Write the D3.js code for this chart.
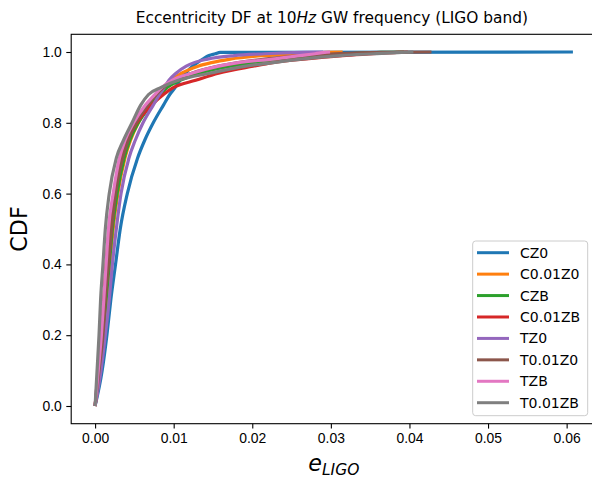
<!DOCTYPE html>
<html>
<head>
<meta charset="utf-8">
<script src="https://cdn.jsdelivr.net/npm/d3@7"></script>
<style>
  body { margin: 0; background: #fff; }
  svg { display: block; font-family: "DejaVu Sans", sans-serif; }
  .tick text { font-size: 13.9px; fill: #000; }
  .tick line { stroke: #000; stroke-width: 1.1; }
  .domain { display: none; }
</style>
</head>
<body>
<svg width="592" height="479"></svg>
<script>
// CDF levels shared by all series
var cdfLevels = [0, 0.1, 0.2, 0.3, 0.4, 0.5, 0.6, 0.7, 0.75, 0.8, 0.85, 0.88, 0.9, 0.92, 0.94, 0.96, 0.97, 0.98, 0.99, 0.995, 0.999, 1.0];

// eccentricity at 10 Hz for each CDF level
var cz0    = [0, .0009, .0015, .0020, .0026, .0032, .0041, .0054, .0063, .0074, .0087, .0095, .0102, .0108, .0115, .0124, .0130, .0137, .0145, .0153, .0159, .0608];
var c001z0 = [0, .0006, .0011, .0015, .0019, .0023, .0029, .0038, .0045, .0055, .0070, .0079, .0087, .0097, .0110, .0131, .0148, .0172, .0216, .0255, .0295, .0315];
var czb    = [0, .0005, .0010, .0014, .0018, .0022, .0028, .0037, .0044, .0055, .0071, .0083, .0092, .0108, .0133, .0172, .0201, .0236, .0285, .0325, .0364, .0393];
var c001zb = [0, .0004, .0008, .0011, .0014, .0018, .0024, .0033, .0041, .0053, .0072, .0087, .0100, .0128, .0157, .0201, .0226, .0265, .0315, .0354, .0384, .0398];
var tz0    = [0, .00075, .0013, .0018, .0022, .0027, .0033, .0043, .0051, .0061, .0074, .0082, .0088, .0094, .0103, .0116, .0126, .0143, .0177, .0216, .0265, .0290];
var t001z0 = [0, .0005, .0010, .0013, .0017, .0021, .0026, .0035, .0042, .0052, .0067, .0078, .0087, .0100, .0123, .0157, .0182, .0216, .0265, .0305, .0364, .0428];
var tzb    = [0, .0004, .0008, .0011, .0014, .0017, .0023, .0031, .0038, .0049, .0064, .0076, .0085, .0098, .0123, .0157, .0182, .0226, .0260, .0280, .0292, .0299];
var t001zb = [0, .00025, .0005, .0007, .0010, .0013, .0018, .0027, .0036, .0047, .0058, .0068, .0084, .0106, .0146, .0192, .0226, .0262, .0312, .0354, .0390, .0405];

var seriesNames = ["CZ0", "C0.01Z0", "CZB", "C0.01ZB", "TZ0", "T0.01Z0", "TZB", "T0.01ZB"];
var seriesVals = [cz0, c001z0, czb, c001zb, tz0, t001z0, tzb, t001zb];
var colors = ["#1f77b4", "#ff7f0e", "#2ca02c", "#d62728", "#9467bd", "#8c564b", "#e377c2", "#7f7f7f"];

var xTicks = [0, 0.01, 0.02, 0.03, 0.04, 0.05, 0.06];
var yTicks = [0, 0.2, 0.4, 0.6, 0.8, 1.0];

var svg = d3.select("svg");
var axLeft = 71.2, axRight = 596.5, axTop = 34.3, axBottom = 423.7;

var x = d3.scaleLinear().domain([-0.00304, 0.0638]).range([axLeft, axRight]);
var y = d3.scaleLinear().domain([-0.05, 1.05]).range([axBottom, axTop]);

var line = d3.line()
    .x(function(d) { return x(d[0]); })
    .y(function(d) { return y(d[1]); })
    .curve(d3.curveMonotoneX);

svg.append("defs").append("clipPath").attr("id", "clip")
  .append("rect")
    .attr("x", axLeft).attr("y", axTop)
    .attr("width", axRight - axLeft).attr("height", axBottom - axTop);

var plot = svg.append("g").attr("clip-path", "url(#clip)");
seriesVals.forEach(function(vals, i) {
  var pts = vals.map(function(v, j) { return [v, cdfLevels[j]]; });
  plot.append("path")
      .datum(pts)
      .attr("fill", "none")
      .attr("stroke", colors[i])
      .attr("stroke-width", 3.2)
      .attr("stroke-linejoin", "round")
      .attr("d", line);
});

// axes
svg.append("g")
    .attr("transform", "translate(0," + axBottom + ")")
    .call(d3.axisBottom(x).tickValues(xTicks).tickFormat(d3.format(".2f")).tickSizeOuter(0).tickSize(4.9).tickPadding(4.5));
svg.append("g")
    .attr("transform", "translate(" + axLeft + ",0)")
    .call(d3.axisLeft(y).tickValues(yTicks).tickFormat(d3.format(".1f")).tickSizeOuter(0).tickSize(4.9).tickPadding(4.5));

// spines
svg.append("rect")
    .attr("x", axLeft).attr("y", axTop)
    .attr("width", axRight - axLeft).attr("height", axBottom - axTop)
    .attr("fill", "none").attr("stroke", "#000").attr("stroke-width", 1.1);

// title
var title = svg.append("text")
    .attr("x", (axLeft + axRight) / 2 - 2).attr("y", 23)
    .attr("text-anchor", "middle")
    .style("font-size", "15.4px");
title.append("tspan").text("Eccentricity DF at 10");
title.append("tspan").attr("font-style", "italic").text("Hz");
title.append("tspan").text(" GW frequency (LIGO band)");

// y label
svg.append("text")
    .attr("transform", "translate(27," + ((axTop + axBottom) / 2) + ") rotate(-90)")
    .attr("text-anchor", "middle")
    .style("font-size", "22.2px")
    .text("CDF");

// x label
var xl = svg.append("text")
    .attr("x", (axLeft + axRight) / 2).attr("y", 471)
    .attr("text-anchor", "middle")
    .style("font-size", "22.2px")
    .attr("font-style", "italic");
xl.append("tspan").text("e");
xl.append("tspan").attr("dy", 4).style("font-size", "15.5px").text("LIGO");

// legend
var lg = svg.append("g");
lg.append("rect")
    .attr("x", 472.7).attr("y", 241).attr("width", 115).attr("height", 174.7)
    .attr("rx", 3).attr("fill", "#fff").attr("fill-opacity", 0.8)
    .attr("stroke", "#ccc").attr("stroke-width", 1);
seriesNames.forEach(function(name, i) {
  var yy = 252.7 + i * 21.43;
  lg.append("line")
      .attr("x1", 477).attr("x2", 509).attr("y1", yy).attr("y2", yy)
      .attr("stroke", colors[i]).attr("stroke-width", 3);
  lg.append("text")
      .attr("x", 520).attr("y", yy + 5)
      .style("font-size", "14px")
      .text(name);
});
</script>
</body>
</html>
